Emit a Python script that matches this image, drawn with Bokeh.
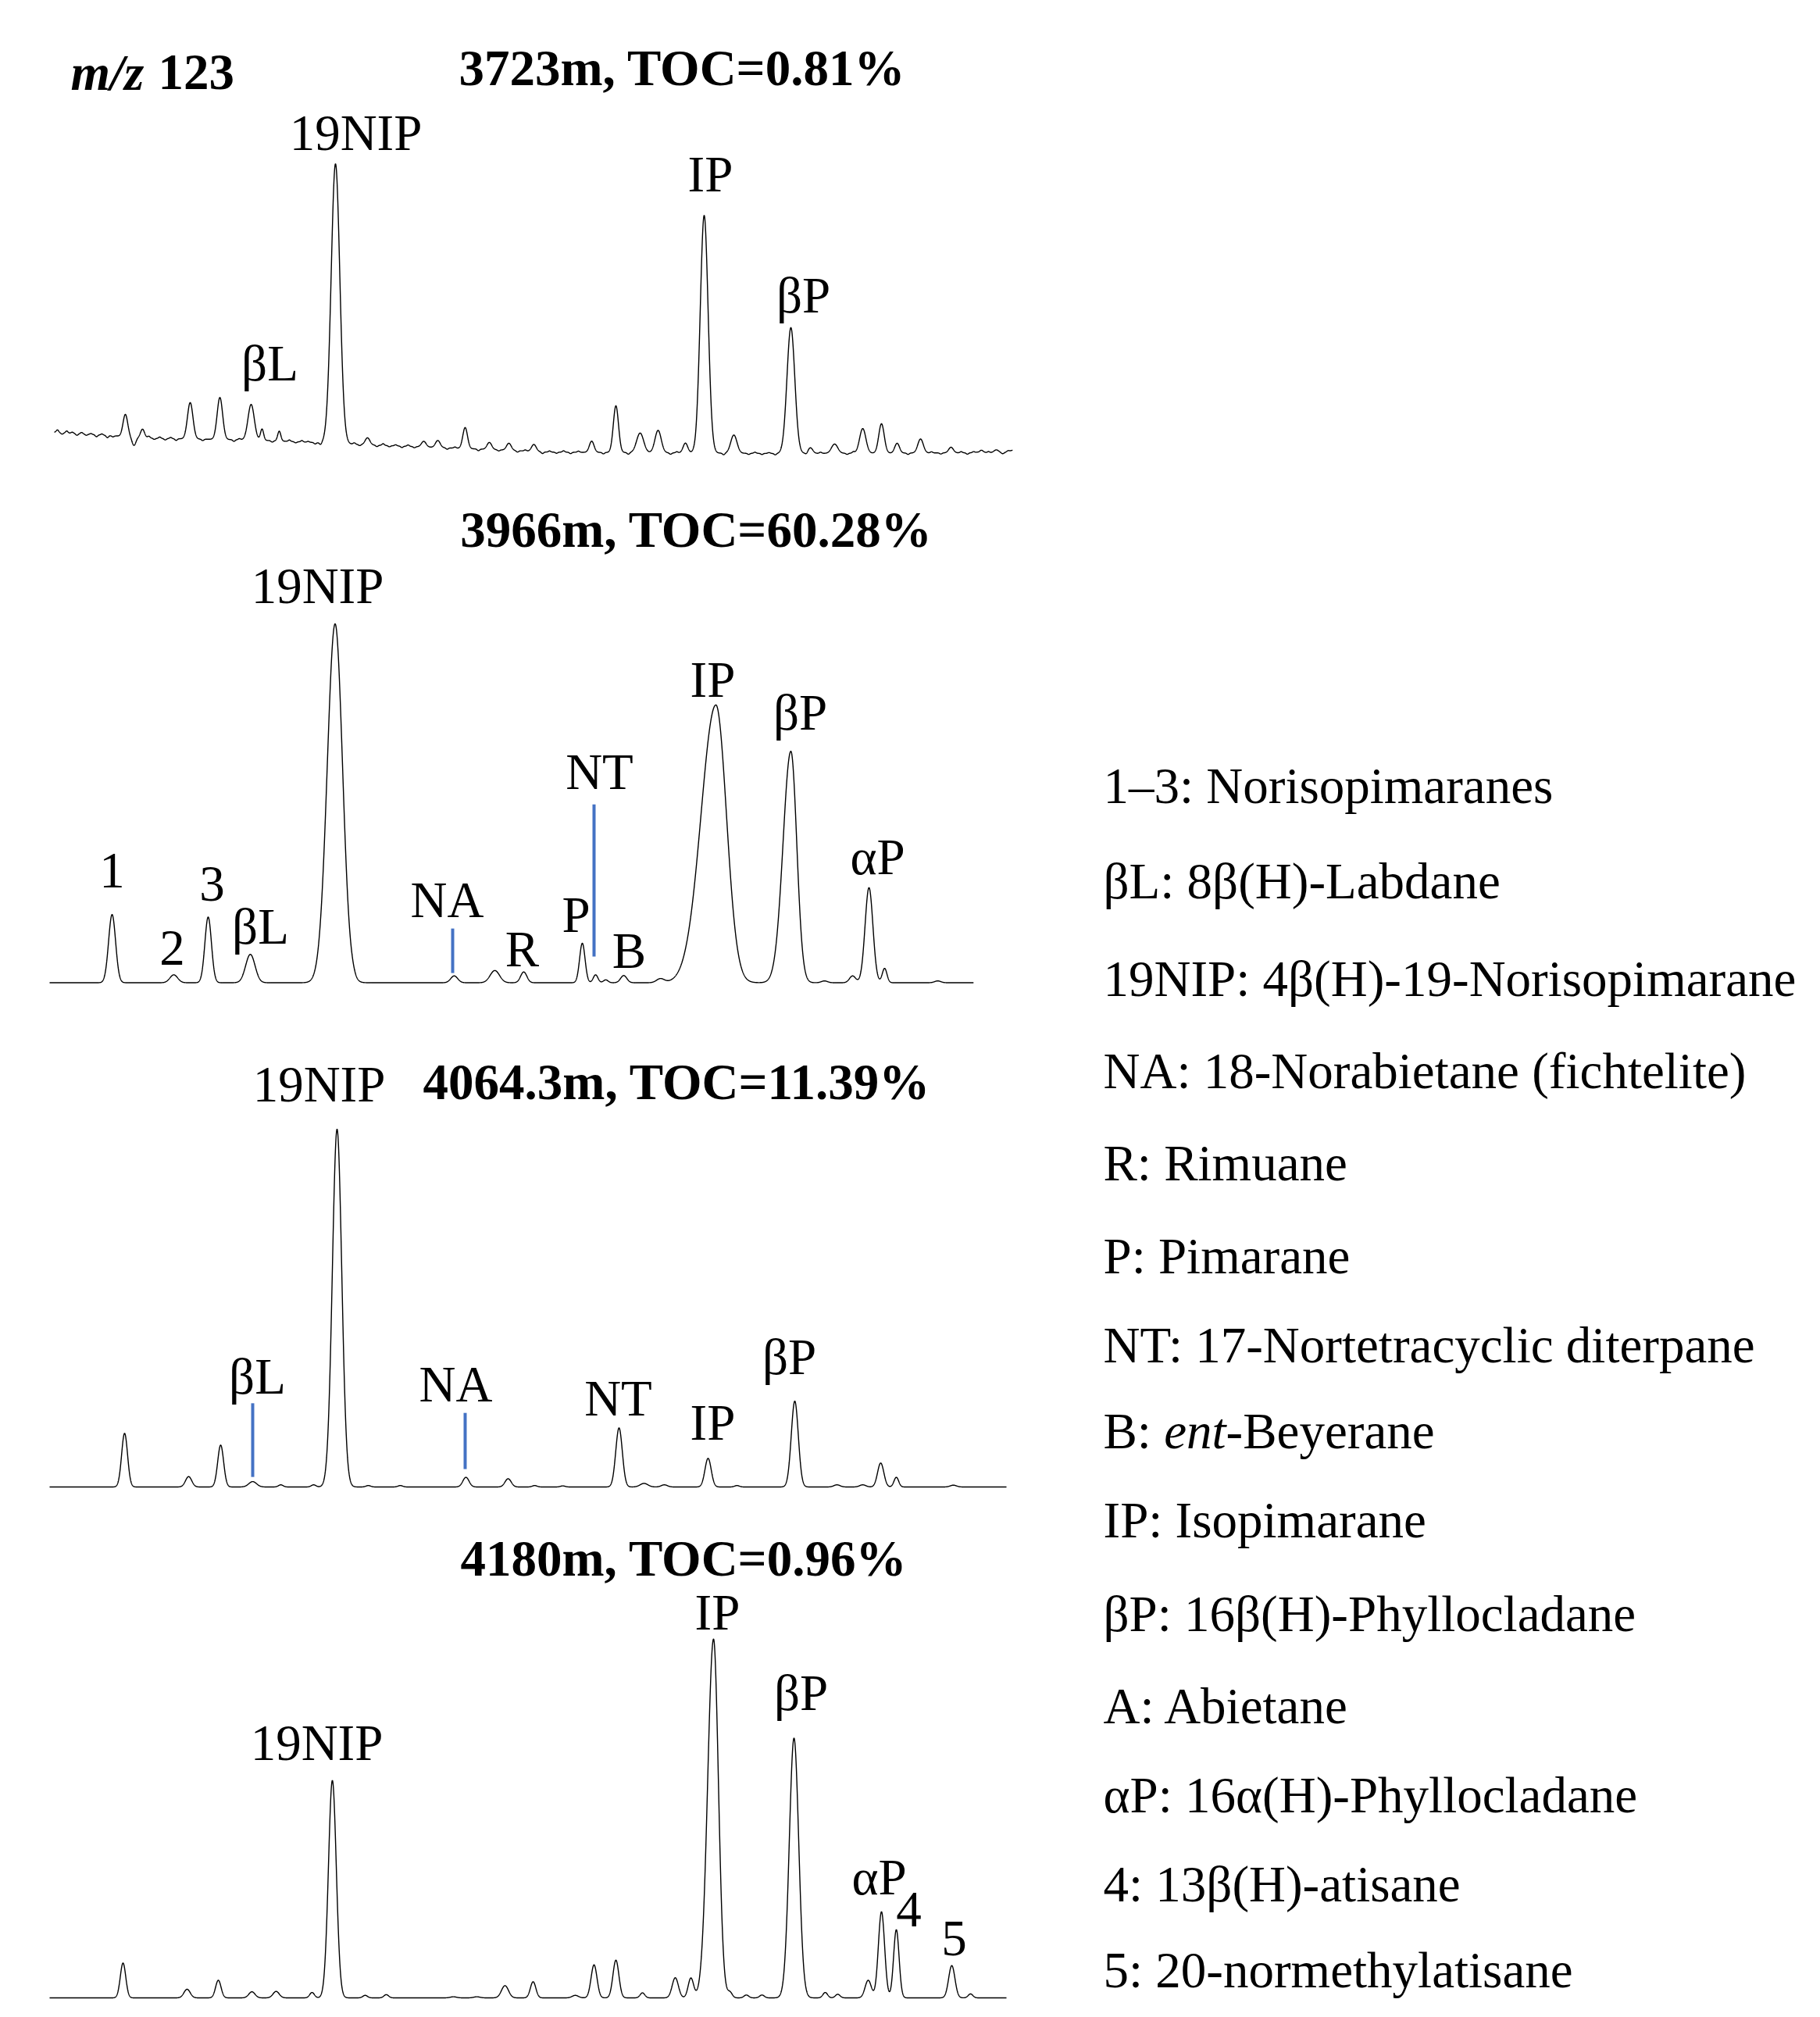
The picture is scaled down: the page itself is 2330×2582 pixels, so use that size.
import numpy as np
from bokeh.plotting import figure
from bokeh.models import Range1d
from bokeh.core.properties import value
from bokeh.embed import file_html
from bokeh.resources import INLINE

# ---------------- data ----------------
# retention in relative units, peak heights in % of the largest peak of each trace,
# peak widths (sigma, left / right) in retention units

# 3723 m
p1_rt = [16.0, 17.1, 18.2, 24.3, 28.1, 32.1, 33.5, 35.7, 42.9, 47.0,
         54.2, 56.0, 59.5, 62.6, 65.1, 68.3, 75.7, 78.8, 81.9, 84.2,
         87.7, 90.1, 93.9, 101.2, 103.7, 106.8, 110.4, 112.8, 114.8, 117.8,
         121.7, 125.5, 127.5]
p1_h = [7.9, -3.0, 3.0, 13.0, 15.0, 12.7, 4.0, 3.5, 100, 2.5,
        2.0, 2.5, 7.5, 2.5, 2.5, 2.5, 4.0, 16.7, 7.0, 8.0,
        3.5, 85, 6.5, 45, 2.0, 3.3, 8.8, 10.5, 3.5, 5.0,
        2.0, 1.0, 1.0]
p1_sl = [0.3, 0.25, 0.25, 0.35, 0.35, 0.4, 0.2, 0.2, 0.55, 0.3,
         0.3, 0.3, 0.3, 0.3, 0.3, 0.3, 0.3, 0.33, 0.45, 0.4,
         0.3, 0.5, 0.4, 0.5, 0.3, 0.4, 0.4, 0.35, 0.3, 0.35,
         0.3, 0.3, 0.3]
p1_sr = p1_sl
p1_base_rt = [6.9, 20, 33, 47, 64, 70, 100, 128.5, 129.6]
p1_base_lvl = [7.6, 5.4, 4.8, 3.1, 1.3, 0.5, 0.0, 0.3, 1.2]
p1_noise = [(7.3, 0.9), (7.9, -0.5), (8.5, 0.7), (9.2, 0.4), (9.8, -0.6), (10.4, 0.5),
            (11.0, -0.4), (11.6, 0.3), (12.3, -0.7), (13.0, 0.4), (13.7, -0.8), (14.4, -0.4),
            (19.0, 0.6), (19.7, -0.4), (20.4, 0.5), (21.1, -0.5), (21.8, 0.4), (22.5, -0.6),
            (25.9, -0.5), (29.9, -0.6), (30.6, 0.4), (34.8, -0.5), (37.0, 0.5), (37.8, -0.4),
            (38.6, 0.5), (39.4, 0.3), (40.3, -0.5), (41.0, -0.8), (45.3, 0.5), (46.0, -0.4),
            (48.2, -0.5), (49.0, 0.6), (49.8, -0.4), (50.6, 0.4), (51.4, -0.5), (52.2, 0.5),
            (53.0, -0.4), (57.2, -0.5), (58.2, 0.4), (61.2, -0.6), (63.8, -0.4), (66.2, -0.5),
            (67.2, 0.4), (69.4, -0.6), (70.3, 0.4), (71.2, -0.4), (72.1, 0.5), (73.0, -0.5),
            (74.0, 0.4), (77.2, -0.5), (80.4, -0.6), (85.8, -0.5), (86.6, 0.4), (89.0, -0.4),
            (92.6, -0.6), (95.8, -0.4), (96.6, 0.4), (97.5, -0.4), (98.4, 0.3), (99.2, -0.5),
            (103.2, -0.5), (105.0, 0.4), (108.4, -0.4), (109.2, 0.5), (116.2, -0.5), (119.2, 0.4),
            (120.4, -0.4), (123.0, 0.4), (123.8, -0.5), (124.6, 0.4), (125.3, -0.4), (126.5, 0.4),
            (128.3, -0.4), (129.0, 0.3)]

# 3966 m
p2_rt = [14.3, 22.2, 26.6, 32.0, 42.85, 45.1, 58.1, 63.3, 67.0, 74.5,
         76.2, 77.5, 79.8, 84.5, 91.6, 101.2, 105.5, 109.1, 111.2, 113.2,
         120.0]
p2_h = [19.0, 2.2, 18.3, 7.9, 100, 0.5, 1.9, 3.4, 3.0, 11.0,
        2.2, 0.8, 2.0, 1.1, 77.4, 64.5, 0.5, 1.9, 26.5, 4.0,
        0.5]
p2_sl = [0.45, 0.5, 0.42, 0.6, 1.0, 0.3, 0.45, 0.6, 0.4, 0.35,
         0.3, 0.3, 0.4, 0.5, 1.9, 1.0, 0.4, 0.4, 0.5, 0.3,
         0.4]
p2_sr = [0.45, 0.5, 0.42, 0.6, 0.95, 0.3, 0.45, 0.6, 0.4, 0.35,
         0.3, 0.3, 0.4, 0.5, 1.35, 0.75, 0.4, 0.4, 0.5, 0.3,
         0.4]

# 4064.3 m
p3_rt = [15.9, 24.1, 28.2, 32.3, 35.9, 40.1, 43.1, 47.1, 51.2, 59.6,
         65.0, 68.4, 72.0, 79.2, 82.4, 85.0, 90.6, 94.3, 101.7, 107.1,
         110.4, 112.7, 114.7, 122.0]
p3_h = [15.0, 2.9, 11.7, 1.5, 0.6, 0.6, 100, 0.4, 0.4, 2.7,
        2.3, 0.4, 0.3, 16.5, 1.0, 0.6, 8.0, 0.4, 24.0, 0.6,
        0.6, 6.7, 2.7, 0.5]
p3_sl = [0.38, 0.4, 0.38, 0.5, 0.3, 0.3, 0.6, 0.3, 0.3, 0.4,
         0.4, 0.3, 0.3, 0.42, 0.5, 0.4, 0.4, 0.3, 0.45, 0.4,
         0.4, 0.4, 0.3, 0.4]
p3_sr = p3_sl

# 4180 m
p4_rt = [15.7, 23.9, 27.9, 32.2, 35.3, 39.9, 42.5, 46.7, 49.4, 58.0,
         61.0, 64.6, 68.2, 73.6, 76.0, 78.8, 82.2, 86.4, 88.4, 91.3,
         93.4, 95.5, 97.5, 101.6, 105.6, 107.2, 111.1, 112.8, 114.7, 121.8,
         124.2]
p4_h = [9.7, 2.4, 4.9, 1.7, 1.8, 1.5, 60.6, 0.7, 0.9, 0.3,
        0.3, 3.4, 4.5, 0.7, 9.2, 10.5, 1.4, 5.6, 5.5, 100,
        1.5, 0.8, 0.8, 72.4, 1.5, 1.0, 4.9, 24.0, 19.0, 9.0,
        1.1]
p4_sl = [0.35, 0.4, 0.35, 0.4, 0.4, 0.3, 0.5, 0.3, 0.3, 0.4,
         0.4, 0.45, 0.35, 0.4, 0.38, 0.38, 0.3, 0.4, 0.35, 0.75,
         0.3, 0.3, 0.3, 0.6, 0.3, 0.3, 0.4, 0.4, 0.35, 0.4,
         0.3]
p4_sr = [0.35, 0.4, 0.35, 0.4, 0.4, 0.3, 0.5, 0.3, 0.3, 0.4,
         0.4, 0.45, 0.35, 0.4, 0.38, 0.38, 0.3, 0.4, 0.35, 0.62,
         0.3, 0.3, 0.3, 0.6, 0.3, 0.3, 0.4, 0.4, 0.35, 0.4,
         0.3]

trace_span = [(6.9, 129.6), (6.3, 124.6), (6.3, 128.8), (6.3, 128.8)]

titles = ["3723m, TOC=0.81%", "3966m, TOC=60.28%", "4064.3m, TOC=11.39%", "4180m, TOC=0.96%"]

p1_labels = ["19NIP", "βL", "IP", "βP"]
p2_labels = ["19NIP", "1", "2", "3", "βL", "NA", "R", "P", "NT", "B", "IP", "βP", "αP"]
p3_labels = ["19NIP", "βL", "NA", "NT", "IP", "βP"]
p4_labels = ["IP", "βP", "19NIP", "αP", "4", "5"]

# indicator lines: (panel, retention, from %, to %)
marker_lines = [(1, 57.9, 2.7, 15.1), (1, 76.0, 7.3, 49.7),
                (2, 32.3, 2.8, 23.4), (2, 59.5, 5.0, 20.7)]

legend_lines = ["1–3: Norisopimaranes", "βL: 8β(H)-Labdane", "19NIP: 4β(H)-19-Norisopimarane",
                "NA: 18-Norabietane (fichtelite)", "R: Rimuane", "P: Pimarane",
                "NT: 17-Nortetracyclic diterpane", None, "IP: Isopimarane",
                "βP: 16β(H)-Phyllocladane", "A: Abietane", "αP: 16α(H)-Phyllocladane",
                "4: 13β(H)-atisane", "5: 20-normethylatisane"]
legend_b_parts = ["B: ", "ent", "-Beyerane"]

# ---------------- layout (reference pixel space) ----------------
W, H = 2314, 2566
TDY = 23          # text renders this much lower than its anchor; compensate
FONT = value("Liberation Serif")
FS = "65px"

panel_base = [580, 1257.5, 1903, 2557]      # baseline pixel row of each trace
panel_k = [3.58, 4.594, 4.58, 4.594]        # pixels per % unit

title_pos = [(873, 109), (891, 700), (866, 1407), (875, 2017)]
label_pos = [
    [(455, 192), (345, 487), (909, 245), (1028, 400)],
    [(406, 772), (143, 1137), (220, 1236), (271, 1154), (333, 1208), (572, 1174),
     (668, 1237), (737, 1193), (767, 1010), (805, 1239), (912, 892), (1024, 934), (1123, 1119)],
    [(408, 1410), (329, 1784), (583, 1794), (791, 1812), (912, 1843), (1010, 1759)],
    [(918, 2086), (1025, 2189), (405, 2253), (1125, 2425), (1163, 2467), (1221, 2504)],
]
legend_x = 1412
legend_y = [1028, 1150, 1275, 1393, 1511, 1630, 1744, 1854, 1968, 2088, 2206, 2320, 2434, 2544]

p = figure(width=W, height=H, output_backend="svg", toolbar_location=None,
           x_axis_location=None, y_axis_location=None, min_border=0,
           x_range=Range1d(0, W / 10), y_range=Range1d(H, 0))
p.outline_line_color = None
p.background_fill_color = "white"
p.border_fill_color = "white"
p.grid.visible = False
p.extra_x_ranges = {"px": Range1d(0, W)}
p.extra_y_ranges = {"tx": Range1d(H + TDY, TDY)}
for i, (b, k) in enumerate(zip(panel_base, panel_k)):
    p.extra_y_ranges[f"p{i}"] = Range1d((b - H) / k, b / k)


def chromatogram(x, rt, h, sl, sr):
    y = np.zeros_like(x)
    for c, a, l, r in zip(rt, h, sl, sr):
        s = np.where(x < c, l, r)
        y += a * np.exp(-0.5 * ((x - c) / s) ** 2)
    return y


peaks = [(p1_rt, p1_h, p1_sl, p1_sr), (p2_rt, p2_h, p2_sl, p2_sr),
         (p3_rt, p3_h, p3_sl, p3_sr), (p4_rt, p4_h, p4_sl, p4_sr)]

for i, (rt, h, sl, sr) in enumerate(peaks):
    x = np.arange(trace_span[i][0], trace_span[i][1], 0.02)
    y = chromatogram(x, rt, h, sl, sr)
    if i == 0:
        y += np.interp(x, p1_base_rt, p1_base_lvl)
        nrt = [n[0] for n in p1_noise]
        namp = [n[1] for n in p1_noise]
        y += chromatogram(x, nrt, namp, [0.15] * len(nrt), [0.15] * len(nrt))
    p.line(x, y, y_range_name=f"p{i}", line_color="black", line_width=1.4)

for (pi, rt, y0, y1) in marker_lines:
    p.segment(x0=[rt], y0=[y0], x1=[rt], y1=[y1], y_range_name=f"p{pi}",
              line_color="#4472C4", line_width=4)

TXT = dict(x_range_name="px", y_range_name="tx", text_font=FONT, text_font_size=FS,
           text_baseline="alphabetic", text_color="black")

# titles
p.text(x=[t[0] for t in title_pos], y=[t[1] for t in title_pos], text=titles,
       text_font_style="bold", text_align="center", **TXT)
p.text(x=[90], y=[115], text=["m/z"], text_font_style="bold italic", text_align="left", **TXT)
p.text(x=[202], y=[115], text=["123"], text_font_style="bold", text_align="left", **TXT)

# peak labels
for labels, pos in zip([p1_labels, p2_labels, p3_labels, p4_labels], label_pos):
    p.text(x=[q[0] for q in pos], y=[q[1] for q in pos], text=labels,
           text_align="center", **TXT)

# legend
lx, ly, lt = [], [], []
for t, yy in zip(legend_lines, legend_y):
    if t is not None:
        lx.append(legend_x); ly.append(yy); lt.append(t)
p.text(x=lx, y=ly, text=lt, text_align="left", **TXT)
by = legend_y[legend_lines.index(None)]
em = 65
p.text(x=[legend_x], y=[by], text=[legend_b_parts[0]], text_align="left", **TXT)
p.text(x=[legend_x + 1.195 * em], y=[by], text=[legend_b_parts[1]], text_font_style="italic",
       text_align="left", **TXT)
p.text(x=[legend_x + (1.195 + 1.222) * em], y=[by], text=[legend_b_parts[2]],
       text_align="left", **TXT)

open("out.html", "w").write(file_html(p, INLINE))
